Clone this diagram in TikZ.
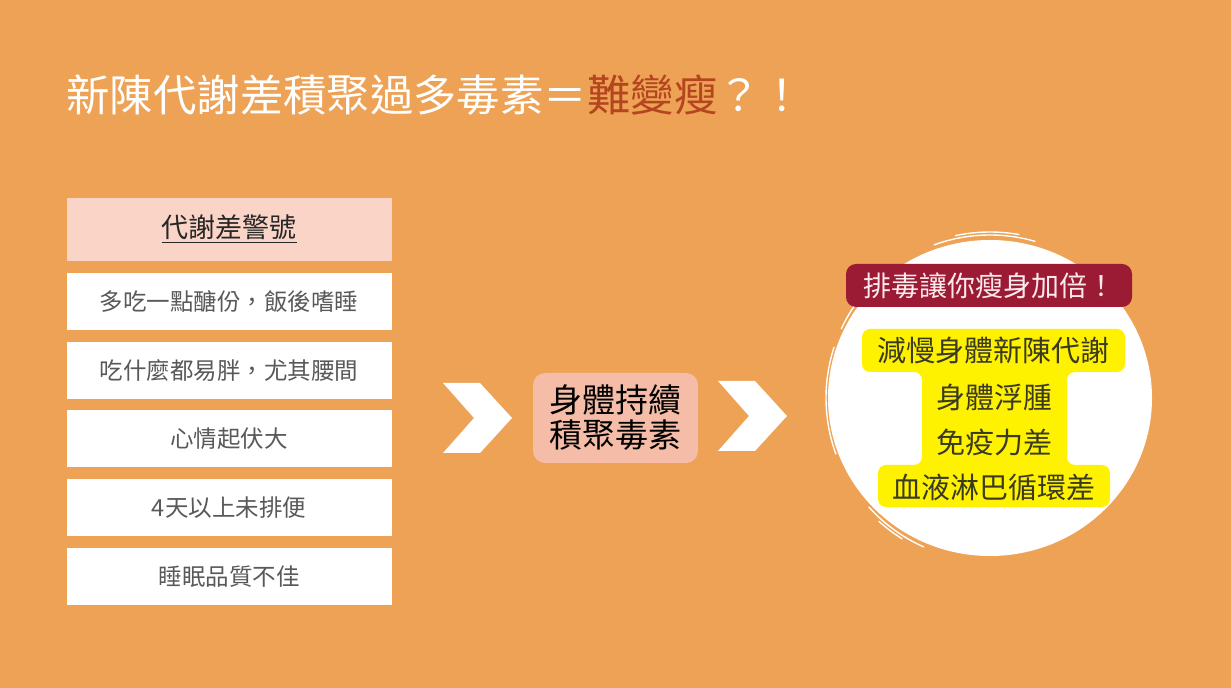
\documentclass[tikz,border=0pt]{standalone}
\usepackage{fontspec}
\setmainfont{Noto Sans CJK TC}
\usetikzlibrary{positioning}
\definecolor{bgOrange}{HTML}{EDA256}
\definecolor{rust}{HTML}{B4451E}
\definecolor{hdrFill}{HTML}{F9D4C7}
\definecolor{midFill}{HTML}{F5BCA7}
\definecolor{wine}{HTML}{9B1B34}
\definecolor{tagText}{HTML}{FBE9EC}
\definecolor{hiYellow}{HTML}{FFF200}
\definecolor{rowText}{HTML}{595959}
\definecolor{yText}{HTML}{3A3A20}

\begin{document}
\begin{tikzpicture}[
  x=0.5pt, y=-0.5pt,
  row/.style={fill=white, minimum width=162.5pt, minimum height=28.5pt,
              inner sep=0pt, text=rowText, font=\fontsize{11.75}{14}\selectfont},
  hdr/.style={row, fill=hdrFill, minimum height=31.5pt, text=black!85,
              font=\fontsize{13.5}{16}\selectfont},
  midbox/.style={fill=midFill, rounded corners=6pt, minimum width=82.5pt,
                 minimum height=45pt, inner sep=0pt, align=center,
                 font=\fontsize{16.5}{17.5}\selectfont},
  tag/.style={fill=wine, rounded corners=5pt, minimum width=143pt,
              minimum height=21.5pt, inner sep=0pt, text=tagText,
              font=\fontsize{14}{16}\selectfont},
  ytxt/.style={inner sep=0pt, text=yText, font=\fontsize{14.5}{16}\selectfont},
  stroke/.style={white, line width=0.7pt, line cap=round},
  chev/.pic={\fill[white] (0,0) -- (37,0) -- (69,35) -- (37,70) -- (0,70) -- (31,35) -- cycle;}
]
  \useasboundingbox (0,0) rectangle (1231,688);
  \fill[bgOrange] (0,0) rectangle (1231,688);

  % title
  \node[anchor=west, inner sep=0pt, text=white, font=\fontsize{21.7}{24}\selectfont]
    (title) at (66,95) {新陳代謝差積聚過多毒素＝{\color{rust}難變瘦}？！};

  % warning list
  \node[hdr] (hdr) at (229,229.5) {\underline{代謝差警號}};
  \node[row, below=5.5pt of hdr] (r1) {多吃一點醣份，飯後嗜睡};
  \node[row, below=5.5pt of r1]  (r2) {吃什麼都易胖，尤其腰間};
  \node[row, below=5.5pt of r2]  (r3) {心情起伏大};
  \node[row, below=5.5pt of r3]  (r4) {4天以上未排便};
  \node[row, below=5.5pt of r4]  (r5) {睡眠品質不佳};

  \foreach \cx/\cy in {443/383, 718/381}
    \pic at (\cx,\cy) {chev};

  \node[midbox] (acc) at (615.5,418) {身體持續\\積聚毒素};

  % brushed circle
  \coordinate (ctr) at (990,398);
  \fill[white] (ctr) ellipse [x radius=162, y radius=158];
  \draw[stroke] (ctr) ++(250:163) arc[start angle=250, end angle=286, radius=163];
  \draw[stroke] (ctr) ++(258:166) arc[start angle=258, end angle=280, radius=166];
  \draw[stroke] (ctr) ++(160:164) arc[start angle=160, end angle=198, radius=164];
  \draw[stroke] (ctr) ++(205:164) arc[start angle=205, end angle=220, radius=164];
  \draw[stroke] (ctr) ++(114:163) arc[start angle=114, end angle=138, radius=163];
  \draw[stroke] (ctr) ++(122:166) arc[start angle=122, end angle=132, radius=166];

  \node[tag] (tag) at (989,285.5) {排毒讓你瘦身加倍！};

  \fill[hiYellow, rounded corners=4pt] (862,329) -- (1125,329) -- (1125,372)
    -- (1067,372) -- (1067,465) -- (1110,465) -- (1110,507) -- (878,507)
    -- (878,465) -- (922,465) -- (922,372) -- (862,372) -- cycle;
  \node[ytxt] (y1) at (993.5,350) {減慢身體新陳代謝};
  \node[ytxt] (y2) at (994.5,397) {身體浮腫};
  \node[ytxt] (y3) at (994.5,442) {免疫力差};
  \node[ytxt] (y4) at (994,487)   {血液淋巴循環差};
\end{tikzpicture}
\end{document}
